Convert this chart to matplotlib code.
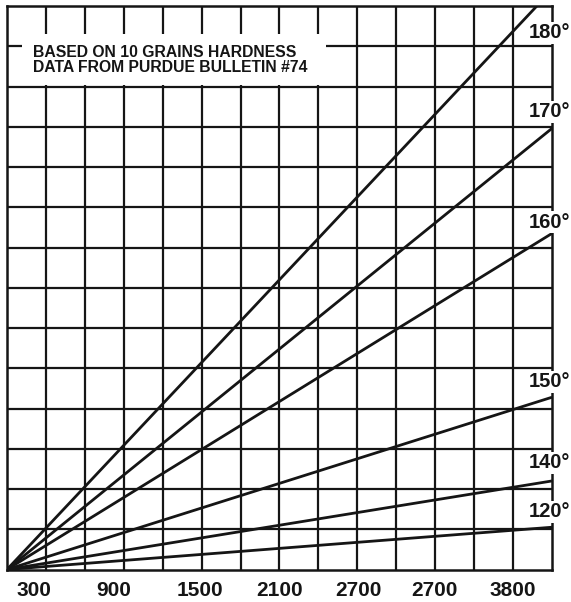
import matplotlib
matplotlib.use("Agg")
import matplotlib.pyplot as plt
from matplotlib.patches import Rectangle

# --- data ---
temp_labels = ["120°", "140°", "150°", "160°", "170°", "180°"]
rise_at_edge = [1.05, 2.2, 4.28, 8.35, 10.96, 14.4]   # grid rows reached at the last column
x_tick_labels = ["300", "900", "1500", "2100", "2700", "2700", "3800"]
x_tick_pos = [0.69, 2.75, 4.96, 7.01, 9.02, 10.99, 13.0]
n_cols, n_rows = 14, 14

# label placement (grid rows) for the temperature tags on the right
label_rows = [1.43, 2.65, 4.66, 8.63, 11.37, 13.33]

W, H = 571, 602
fig = plt.figure(figsize=(W / 100, H / 100), dpi=100)
ax = fig.add_axes([7 / W, (H - 569.5) / H, 545 / W, 563.5 / H])
ax.set_xlim(0, n_cols)
ax.set_ylim(0, n_rows)

font = "Liberation Sans"
ink = "#151515"

# grid
for c in range(1, n_cols):
    ax.axvline(c, color=ink, lw=1.6, zorder=1)
for r in range(1, n_rows):
    ax.axhline(r, color=ink, lw=1.6, zorder=1)

for s in ax.spines.values():
    s.set_linewidth(1.8)
    s.set_color(ink)

# note box over the grid
ax.add_patch(Rectangle((15 / 38.93, (569.5 - 85) / 40.25), 304 / 38.93, 51 / 40.25,
                       facecolor="white", edgecolor="none", zorder=2))
ax.text(26 / 38.93, (569.5 - 60) / 40.25,
        "BASED ON 10 GRAINS HARDNESS\nDATA FROM PURDUE BULLETIN #74",
        fontsize=11.3, fontweight="bold", family=font, color=ink,
        ha="left", va="center", linespacing=1.0, zorder=3)

# fan of lines from the origin
for rise in rise_at_edge:
    ax.plot([0, n_cols], [0, rise], color=ink, lw=2.0,
            solid_capstyle="butt", zorder=4)

for lab, row in zip(temp_labels, label_rows):
    ax.text(n_cols + 18 / 38.93, row, lab, fontsize=14.5, fontweight="bold",
            family=font, color=ink, ha="right", va="center",
            clip_on=False, zorder=5,
            bbox=dict(facecolor="white", edgecolor="none", pad=1.0))

ax.set_xticks(x_tick_pos)
ax.set_xticklabels(x_tick_labels, fontsize=15, fontweight="bold", family=font,
                   color=ink)
ax.tick_params(axis="x", length=0, pad=8)
ax.set_yticks([])

fig.savefig("out.png", dpi=100, facecolor="white")
